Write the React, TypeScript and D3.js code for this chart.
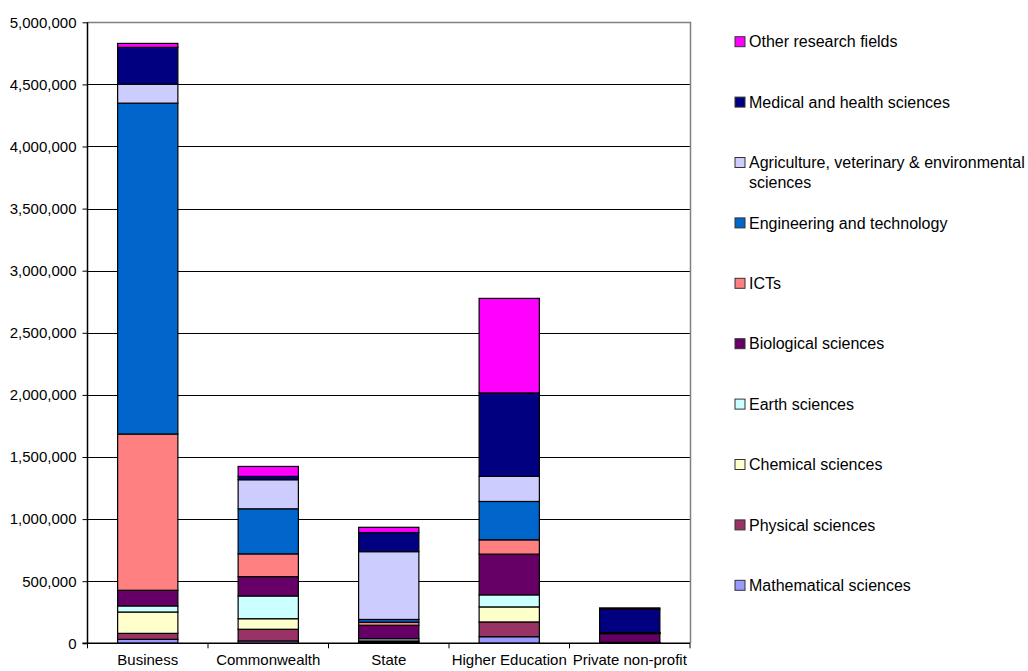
import React, { useEffect, useRef } from "react";
import * as d3 from "d3";

const sectors = ["Business", "Commonwealth", "State", "Higher Education", "Private non-profit"];

const fields = [
  "Mathematical sciences",
  "Physical sciences",
  "Chemical sciences",
  "Earth sciences",
  "Biological sciences",
  "ICTs",
  "Engineering and technology",
  "Agriculture, veterinary & environmental sciences",
  "Medical and health sciences",
  "Other research fields",
];

const fieldColors = [
  "#9999FF",
  "#993366",
  "#FFFFCC",
  "#CCFFFF",
  "#660066",
  "#FF8080",
  "#0066CC",
  "#CCCCFF",
  "#000080",
  "#FF00FF",
];

// one array per field, values in the order of sectors
const mathematical = [32000, 19000, 5000, 53000, 2000];
const physical = [48000, 94000, 8000, 119000, 3000];
const chemical = [172000, 85000, 6000, 121000, 1000];
const earth = [49000, 183000, 18000, 97000, 2000];
const biological = [126000, 156000, 108000, 328000, 70000];
const icts = [1258000, 183000, 25000, 115000, 2000];
const engineering = [2664000, 363000, 22000, 309000, 3000];
const agriculture = [153000, 234000, 546000, 202000, 4000];
const medical = [296000, 27000, 154000, 672000, 188000];
const other = [32000, 80000, 42000, 761000, 10000];

const series = [mathematical, physical, chemical, earth, biological, icts, engineering, agriculture, medical, other];

const yTicks = [0, 500000, 1000000, 1500000, 2000000, 2500000, 3000000, 3500000, 4000000, 4500000, 5000000];

const FONT = "Arial, 'Liberation Sans', sans-serif";

const App: React.FC = () => {
  const svgRef = useRef<SVGSVGElement | null>(null);

  useEffect(() => {
    const svg = d3.select(svgRef.current);
    svg.selectAll("*").remove();

    const plot = { left: 87.5, right: 690, top: 22.3, bottom: 643.3 };

    const x = d3.scaleBand().domain(sectors).range([plot.left, plot.right]).padding(0);
    const y = d3.scaleLinear().domain([0, 5000000]).range([plot.bottom, plot.top]);

    const rows = sectors.map((s, i) => {
      const row: any = { sector: s };
      fields.forEach((f, j) => (row[f] = series[j][i]));
      return row;
    });
    const stacked = d3.stack().keys(fields)(rows);

    // gridlines
    svg
      .append("g")
      .selectAll("line")
      .data(yTicks.slice(1, -1))
      .enter()
      .append("line")
      .attr("x1", plot.left)
      .attr("x2", plot.right)
      .attr("y1", (d) => Math.round(y(d)) + 0.5)
      .attr("y2", (d) => Math.round(y(d)) + 0.5)
      .attr("stroke", "#000")
      .attr("stroke-width", 1);

    // plot area border (top/right)
    svg
      .append("path")
      .attr("d", `M${plot.left},${Math.round(plot.top) + 0.5} H${Math.round(plot.right) + 0.5} V${plot.bottom}`)
      .attr("fill", "none")
      .attr("stroke", "#808080")
      .attr("stroke-width", 1.5);

    // bars
    const bw = x.bandwidth() / 2;
    svg
      .append("g")
      .selectAll("g")
      .data(stacked)
      .enter()
      .append("g")
      .attr("fill", (_d, i) => fieldColors[i])
      .selectAll("rect")
      .data((d) => d.map((v, i) => ({ v, s: sectors[i] })))
      .enter()
      .append("rect")
      .attr("x", (d) => x(d.s)! + bw / 2)
      .attr("width", bw)
      .attr("y", (d) => y(d.v[1]))
      .attr("height", (d) => Math.max(0, y(d.v[0]) - y(d.v[1])))
      .attr("stroke", "#000")
      .attr("stroke-width", 1.2);

    // y axis
    const yAxis = d3
      .axisLeft(y)
      .tickValues(yTicks)
      .tickSize(5)
      .tickPadding(6)
      .tickFormat((d) => d3.format(",")(d as number));
    const yg = svg
      .append("g")
      .attr("transform", `translate(${plot.left},0)`)
      .call(yAxis as any);
    yg.select(".domain").attr("stroke", "#000").attr("stroke-width", 1.5).attr("d", `M0,${plot.top}V${plot.bottom}`);
    yg.selectAll(".tick line").attr("stroke", "#000");
    yg.selectAll(".tick text").style("font-family", FONT).style("font-size", "15px").attr("fill", "#000");

    // x axis
    const xg = svg.append("g");
    xg.append("line")
      .attr("x1", plot.left - 5)
      .attr("x2", plot.right)
      .attr("y1", plot.bottom)
      .attr("y2", plot.bottom)
      .attr("stroke", "#000")
      .attr("stroke-width", 1.5);
    const bounds = sectors.map((s) => x(s)!).concat([plot.right]);
    xg.selectAll("line.tick")
      .data(bounds)
      .enter()
      .append("line")
      .attr("class", "tick")
      .attr("x1", (d) => d)
      .attr("x2", (d) => d)
      .attr("y1", plot.bottom)
      .attr("y2", plot.bottom + 5)
      .attr("stroke", "#000");
    xg.selectAll("text")
      .data(sectors)
      .enter()
      .append("text")
      .attr("x", (d) => x(d)! + x.bandwidth() / 2)
      .attr("y", plot.bottom + 22)
      .attr("text-anchor", "middle")
      .style("font-family", FONT)
      .style("font-size", "15px")
      .text((d) => d);

    // legend, top item is the last series
    const legendItems = fields.map((f, i) => ({ f, c: fieldColors[i] })).reverse();
    const lg = svg.append("g");
    const item = lg
      .selectAll("g")
      .data(legendItems)
      .enter()
      .append("g")
      .attr("transform", (_d, i) => `translate(735,${41.7 + i * 60.4})`);
    item
      .append("rect")
      .attr("x", 0)
      .attr("y", -5)
      .attr("width", 10)
      .attr("height", 10)
      .attr("fill", (d) => d.c)
      .attr("stroke", "#333")
      .attr("stroke-width", 1);
    item.each(function (d) {
      const g = d3.select(this);
      const lines =
        d.f === "Agriculture, veterinary & environmental sciences"
          ? ["Agriculture, veterinary & environmental", "sciences"]
          : [d.f];
      lines.forEach((t, k) => {
        g.append("text")
          .attr("x", 14)
          .attr("y", k * 19.5)
          .attr("dy", "0.35em")
          .style("font-family", FONT)
          .style("font-size", "16px")
          .text(t);
      });
    });
  }, []);

  return (
    <svg
      ref={svgRef}
      width={1028}
      height={671}
      style={{ position: "absolute", left: 0, top: 0, background: "#fff" }}
    />
  );
};

export default App;
